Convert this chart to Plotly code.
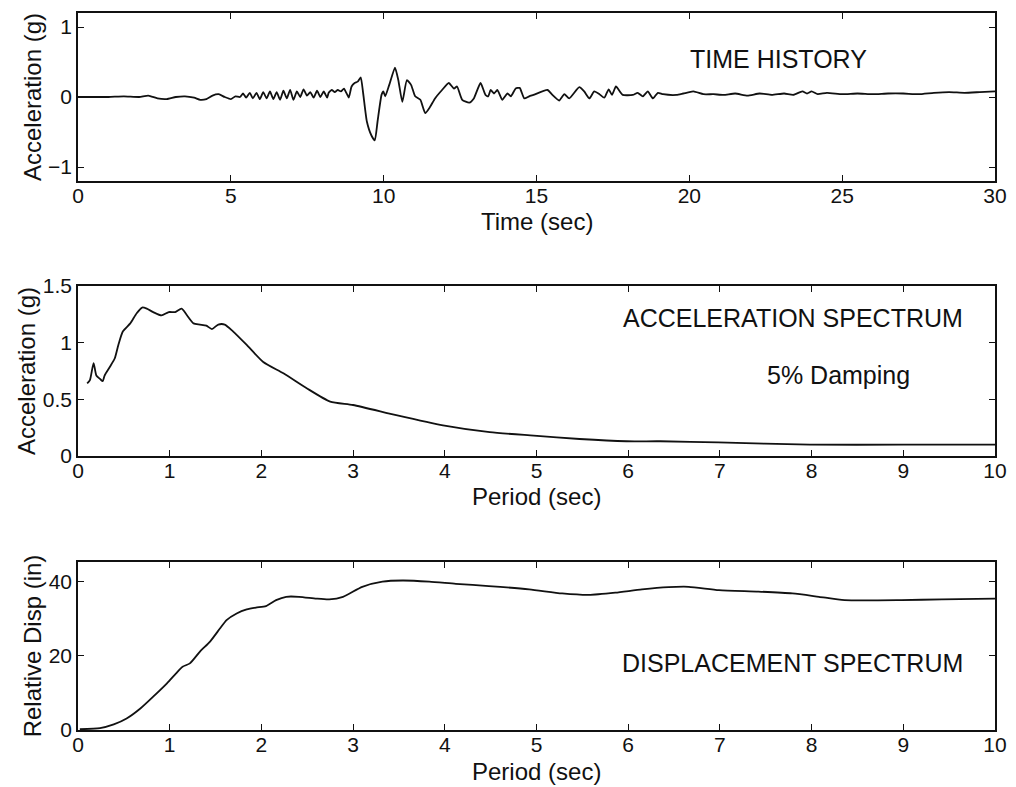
import plotly.graph_objects as go

# Ground-motion time history: time (sec) and acceleration (g)
time_s = [0.0, 0.5, 1.0, 1.5, 2.0, 2.3, 2.6, 2.9, 3.2, 3.5, 3.8, 4.0, 4.2, 4.4, 4.6, 4.8, 5.0, 5.15, 5.3,
          5.40, 5.50, 5.62, 5.72, 5.84, 5.95, 6.06, 6.17, 6.28, 6.39, 6.50, 6.61, 6.72, 6.83, 6.94, 7.05,
          7.16, 7.27, 7.38, 7.49, 7.60, 7.71, 7.82, 7.93, 8.04, 8.15, 8.20, 8.30, 8.40, 8.50, 8.60, 8.70,
          8.80, 8.86, 8.95, 9.05, 9.15, 9.25, 9.33, 9.45, 9.60, 9.71, 9.80, 9.93, 9.99, 10.05, 10.18, 10.37,
          10.48, 10.61, 10.76, 10.90, 11.03, 11.20, 11.36, 11.52, 11.68, 11.91, 12.13, 12.30, 12.40, 12.57,
          12.80, 12.95, 13.17, 13.33, 13.42, 13.50, 13.61, 13.72, 13.88, 14.05, 14.16, 14.32, 14.45, 14.60,
          14.76, 14.90, 15.36, 15.52, 15.74, 15.91, 16.07, 16.40, 16.56, 16.73, 16.89, 17.06, 17.22, 17.36,
          17.47, 17.60, 17.82, 18.15, 18.31, 18.48, 18.64, 18.81, 18.97, 19.14, 19.58, 19.80, 20.13, 20.46,
          20.79, 21.12, 21.5, 21.9, 22.3, 22.7, 23.1, 23.4, 23.7, 23.85, 24.0, 24.2, 24.5, 25.0, 25.5, 26.0,
          26.5, 27.0, 27.5, 28.0, 28.5, 29.0, 29.5, 30.0]
accel_g = [0.00, 0.00, 0.00, 0.01, 0.00, 0.02, -0.02, -0.03, 0.00, 0.01, -0.01, -0.04, -0.03, 0.02, 0.04, 0.00, -0.03, 0.01, 0.00,
           0.05, -0.01, 0.06, -0.02, 0.06, -0.03, 0.07, -0.02, 0.08, -0.03, 0.07, -0.04, 0.09, -0.02, 0.10, -0.04,
           0.08, 0.00, 0.11, 0.02, 0.07, -0.01, 0.09, 0.00, 0.08, -0.01, 0.06, 0.10, 0.07, 0.10, 0.08, 0.12,
           0.04, -0.01, 0.15, 0.20, 0.22, 0.28, 0.05, -0.35, -0.55, -0.62, -0.35, 0.03, 0.08, 0.01, 0.17, 0.42,
           0.24, -0.07, 0.24, 0.17, 0.01, -0.04, -0.23, -0.14, -0.02, 0.10, 0.20, 0.12, 0.15, -0.04,
           -0.08, -0.02, 0.20, 0.03, 0.01, 0.10, 0.05, 0.10, -0.04, 0.05, 0.01, 0.12, 0.13, -0.02,
           0.01, 0.03, 0.10, 0.03, -0.05, 0.04, -0.02, 0.14, 0.08, -0.02, 0.08, 0.04, -0.01, 0.11,
           0.03, 0.15, 0.03, 0.03, 0.06, 0.01, 0.08, -0.02, 0.06, 0.04, 0.03, 0.05, 0.08, 0.04,
           0.04, 0.03, 0.05, 0.02, 0.05, 0.03, 0.05, 0.03, 0.08, 0.05, 0.08, 0.04, 0.06, 0.04, 0.05, 0.04,
           0.05, 0.05, 0.04, 0.06, 0.07, 0.06, 0.07, 0.08]

# Pseudo-acceleration response spectrum, 5% damping
period_a = [0.10, 0.13, 0.17, 0.20, 0.24, 0.27, 0.29, 0.35, 0.40, 0.44, 0.49, 0.57, 0.64, 0.70, 0.75, 0.82,
            0.91, 0.99, 1.06, 1.13, 1.19, 1.26, 1.33, 1.40, 1.46, 1.53, 1.60, 1.69, 1.84, 2.02, 2.24, 2.49,
            2.75, 3.00, 3.47, 3.98, 4.49, 4.97, 5.47, 5.98, 6.35, 6.98, 7.98, 9.00, 10.0]
sa_g = [0.64, 0.67, 0.82, 0.71, 0.68, 0.66, 0.71, 0.79, 0.86, 0.98, 1.10, 1.17, 1.26, 1.31, 1.30, 1.27,
        1.24, 1.27, 1.27, 1.30, 1.24, 1.17, 1.16, 1.15, 1.12, 1.16, 1.16, 1.10, 0.98, 0.83, 0.73, 0.60,
        0.48, 0.45, 0.36, 0.27, 0.21, 0.18, 0.15, 0.13, 0.13, 0.12, 0.10, 0.10, 0.10]

# Relative displacement response spectrum (in)
period_d = [0.02, 0.24, 0.39, 0.53, 0.68, 0.82, 0.97, 1.07, 1.14, 1.22, 1.33, 1.44, 1.55, 1.62, 1.73, 1.84,
            1.94, 2.05, 2.16, 2.27, 2.41, 2.60, 2.74, 2.89, 3.10, 3.32, 3.54, 3.83, 4.12, 4.48, 4.92, 5.28,
            5.57, 5.86, 6.15, 6.44, 6.66, 6.99, 7.42, 7.79, 8.08, 8.36, 8.98, 9.42, 10.0]
sd_in = [0.2, 0.5, 1.5, 3.1, 5.8, 9.0, 12.6, 15.3, 17.1, 18.0, 21.2, 23.9, 27.5, 29.7, 31.5, 32.6,
         33.1, 33.5, 35.1, 36.0, 36.0, 35.5, 35.3, 36.0, 38.7, 40.1, 40.4, 40.1, 39.5, 38.9, 38.0, 36.9,
         36.5, 37.1, 38.0, 38.6, 38.7, 37.8, 37.4, 36.9, 36.0, 35.1, 35.1, 35.3, 35.5]

W, H = 1016, 787
FONT = "Liberation Sans, Arial, sans-serif"
INK = "#111111"

fig = go.Figure()
fig.add_trace(go.Scatter(x=time_s, y=accel_g, mode="lines",
                         line=dict(color=INK, width=1.8, shape="spline", smoothing=0.5),
                         xaxis="x", yaxis="y"))
fig.add_trace(go.Scatter(x=period_a, y=sa_g, mode="lines",
                         line=dict(color=INK, width=1.8, shape="spline", smoothing=0.6),
                         xaxis="x2", yaxis="y2"))
fig.add_trace(go.Scatter(x=period_d, y=sd_in, mode="lines",
                         line=dict(color=INK, width=1.8, shape="spline", smoothing=0.6),
                         xaxis="x3", yaxis="y3"))

x_dom = [78 / W, 995 / W]


def ydom(top_px, bot_px):
    return [1 - bot_px / H, 1 - top_px / H]


axis_common = dict(showline=True, linecolor=INK, linewidth=1.5, mirror="ticks", ticks="inside",
                   ticklen=6, tickwidth=1.2, tickcolor=INK, showgrid=False, zeroline=False,
                   automargin=False, tickfont=dict(family=FONT, size=21, color=INK))
x_axis_common = dict(axis_common, ticklabelstandoff=-5)
title_font = dict(family=FONT, size=24, color=INK)

fig.update_layout(
    width=W, height=H, margin=dict(l=0, r=0, t=0, b=0),
    paper_bgcolor="white", plot_bgcolor="white", showlegend=False,
    xaxis=dict(domain=x_dom, range=[0, 30], tickvals=[0, 5, 10, 15, 20, 25, 30], anchor="y",
               **x_axis_common),
    yaxis=dict(domain=ydom(13, 181), range=[-1.2, 1.2], tickvals=[-1, 0, 1], anchor="x",
               title=dict(text="Acceleration (g)", font=title_font, standoff=0), **axis_common),
    xaxis2=dict(domain=x_dom, range=[0, 10], tickvals=list(range(11)), anchor="y2",
                **x_axis_common),
    yaxis2=dict(domain=ydom(286, 456), range=[0, 1.5], tickvals=[0, 0.5, 1, 1.5],
                ticktext=["0", "0.5", "1", "1.5"], anchor="x2",
                title=dict(text="Acceleration (g)", font=title_font, standoff=0), **axis_common),
    xaxis3=dict(domain=x_dom, range=[0, 10], tickvals=list(range(11)), anchor="y3",
                **x_axis_common),
    yaxis3=dict(domain=ydom(562, 730), range=[0, 45.4], tickvals=[0, 20, 40], anchor="x3",
                title=dict(text="Relative Disp (in)", font=title_font, standoff=0), **axis_common),
)

# x-axis titles, centred under each panel
x_mid = (x_dom[0] + x_dom[1]) / 2
for text, y_px in [("Time (sec)", 221), ("Period (sec)", 496), ("Period (sec)", 771)]:
    fig.add_annotation(text=text, xref="paper", yref="paper", x=x_mid, y=1 - y_px / H,
                       xanchor="center", yanchor="middle", showarrow=False, font=title_font)

label_font = dict(family=FONT, size=25, color=INK)
fig.add_annotation(text="TIME HISTORY", xref="paper", yref="paper", x=688 / W, y=1 - 59 / H,
                   xanchor="left", yanchor="middle", showarrow=False, font=label_font)
fig.add_annotation(text="ACCELERATION SPECTRUM", xref="paper", yref="paper", x=965 / W, y=1 - 318 / H,
                   xanchor="right", yanchor="middle", showarrow=False, font=label_font)
fig.add_annotation(text="5% Damping", xref="paper", yref="paper", x=765 / W, y=1 - 375 / H,
                   xanchor="left", yanchor="middle", showarrow=False, font=label_font)
fig.add_annotation(text="DISPLACEMENT SPECTRUM", xref="paper", yref="paper", x=965 / W, y=1 - 663 / H,
                   xanchor="right", yanchor="middle", showarrow=False, font=label_font)

fig.write_html("out.html")
